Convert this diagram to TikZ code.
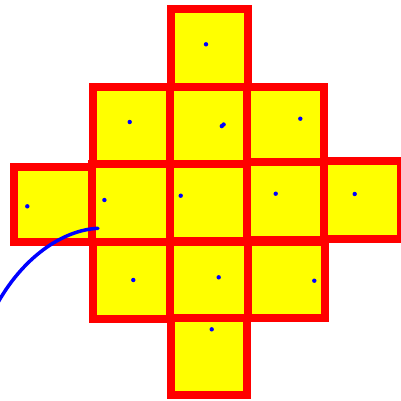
\documentclass[tikz,border=0pt]{standalone}
\definecolor{celly}{RGB}{255,255,0}
\definecolor{cellr}{RGB}{255,0,0}
\definecolor{dotb}{RGB}{0,0,255}
\begin{document}
\begin{tikzpicture}[x=1pt,y=-1pt,
  cell/.style={fill=celly, draw=cellr, line width=8pt},
  dot/.style={fill=dotb, draw=none},
  curve/.style={draw=dotb, line width=3.5pt, line cap=round}]
\clip (0,0) rectangle (401,400);
% squares
\path[cell] (171,9) rectangle (248,87);
\path[cell] (93,87) rectangle (170,164);
\path[cell] (170,87) rectangle (247,164);
\path[cell] (247,87) rectangle (324,162);
\path[cell] (14,166.5) rectangle (92,242);
\path[cell] (92,164) rectangle (170,242);
\path[cell] (170,164) rectangle (247,241);
\path[cell] (247,162) rectangle (324,239.5);
\path[cell] (324,161) rectangle (400.7,239);
\path[cell] (92.7,242) rectangle (170,319);
\path[cell] (170,242) rectangle (248,318);
\path[cell] (248,242) rectangle (325,318);
\path[cell] (170.5,318) rectangle (247,395);
% dots
\foreach \p in {(206,44.3),(129.7,122),(300.3,118.7),(27.3,206.3),(104.4,200),
  (180.7,195.7),(275.7,193.7),(354.7,194),(133.3,280),(218.7,277.3),
  (314.3,280.7),(211.7,329.3)}
  \path[dot] \p circle (2.2);
\path[dot] (221.8,126.1) circle (2.2);
\path[dot] (223.6,124.5) circle (2.2);
% curve
\coordinate (cs) at (-4,306);
\coordinate (ce) at (98,228.3);
\path[curve] (cs) .. controls (22,258) and (62,230) .. (ce);
\end{tikzpicture}
\end{document}
